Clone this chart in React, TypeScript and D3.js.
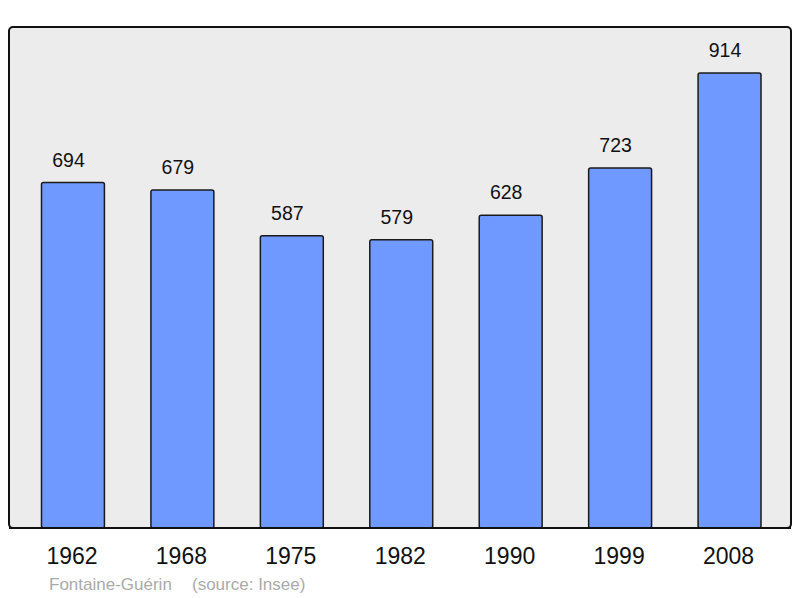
import { useEffect, useRef } from "react";
import * as d3 from "d3";

const YEARS = ["1962", "1968", "1975", "1982", "1990", "1999", "2008"];
const POPULATION = [694, 679, 587, 579, 628, 723, 914];
const TITLE = "Fontaine-Guérin";
const SOURCE = "(source: Insee)";

export default function App() {
	const ref = useRef<SVGSVGElement>(null);

	useEffect(() => {
		const svg = d3.select(ref.current);
		svg.selectAll("*").remove();

		const font = "'Liberation Sans', Arial, sans-serif";
		const baseline = 528;

		// Panel background
		svg.append("rect")
			.attr("x", 9)
			.attr("y", 27)
			.attr("width", 782)
			.attr("height", 501)
			.attr("rx", 4)
			.attr("fill", "#ececec")
			.attr("stroke", "#111")
			.attr("stroke-width", 2);

		const x = d3.scaleBand()
			.domain(YEARS)
			.range([41.5, 761])
			.paddingInner(0.425)
			.paddingOuter(0);

		const y = d3.scaleLinear()
			.domain([0, 914])
			.range([baseline, 73]);

		const data = YEARS.map((year, i) => ({ year, value: POPULATION[i] }));

		// Bars
		svg.selectAll(".bar")
			.data(data)
			.enter()
			.append("rect")
			.attr("class", "bar")
			.attr("x", d => x(d.year)!)
			.attr("y", d => y(d.value))
			.attr("width", x.bandwidth())
			.attr("height", d => baseline - y(d.value))
			.attr("rx", 2)
			.attr("fill", "#7099ff")
			.attr("stroke", "#1a1a1a")
			.attr("stroke-width", 1.5);

		// Redraw bottom border over bars
		svg.append("line")
			.attr("x1", 9)
			.attr("x2", 791)
			.attr("y1", baseline)
			.attr("y2", baseline)
			.attr("stroke", "#111")
			.attr("stroke-width", 2);

		// Value labels (sit slightly left of bar centre)
		svg.selectAll(".value-label")
			.data(data)
			.enter()
			.append("text")
			.attr("class", "value-label")
			.attr("x", d => x(d.year)! + x.bandwidth() / 2 - 4.5)
			.attr("y", d => y(d.value) - 16)
			.attr("text-anchor", "middle")
			.attr("font-family", font)
			.attr("font-size", "19.5px")
			.attr("fill", "#111")
			.text(d => d.value);

		// Year labels
		svg.selectAll(".year-label")
			.data(data)
			.enter()
			.append("text")
			.attr("class", "year-label")
			.attr("x", d => x(d.year)! + x.bandwidth() / 2 - 1)
			.attr("y", 564)
			.attr("text-anchor", "middle")
			.attr("font-family", font)
			.attr("font-size", "23px")
			.attr("fill", "#111")
			.text(d => d.year);

		// Footer
		svg.append("text")
			.attr("x", 49)
			.attr("y", 590)
			.attr("font-family", font)
			.attr("font-size", "17px")
			.attr("fill", "#aaaaaa")
			.text(TITLE);

		svg.append("text")
			.attr("x", 192)
			.attr("y", 590)
			.attr("font-family", font)
			.attr("font-size", "17px")
			.attr("fill", "#aaaaaa")
			.text(SOURCE);
	}, []);

	return (
		<svg
			ref={ref}
			width={800}
			height={598}
			style={{ position: "fixed", top: 0, left: 0, background: "#fff" }}
		/>
	);
}
